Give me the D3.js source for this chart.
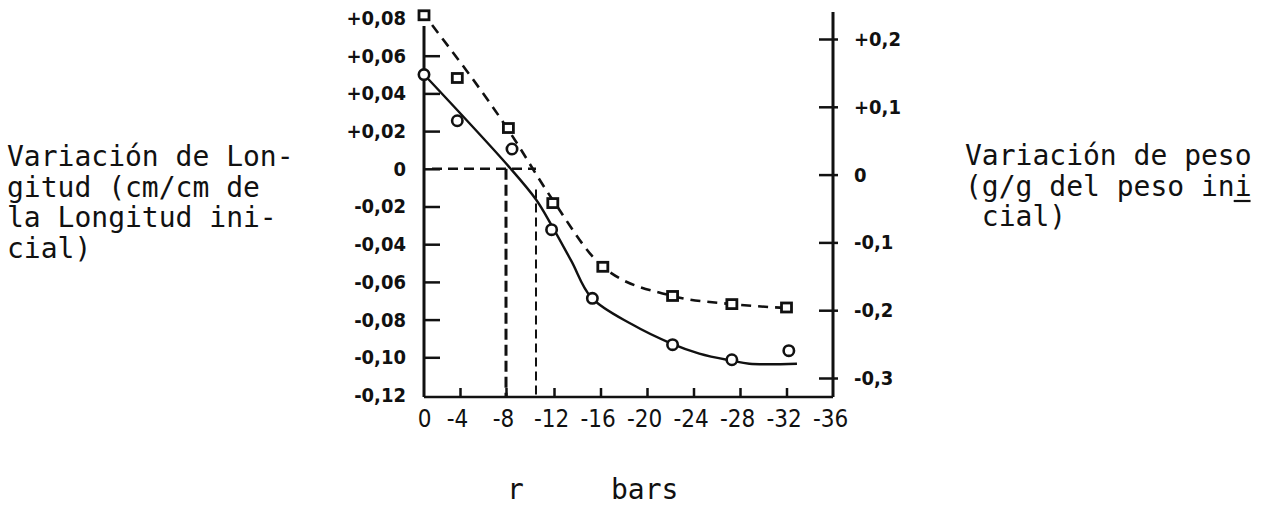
<!DOCTYPE html>
<html>
<head>
<meta charset="utf-8">
<script src="https://cdn.jsdelivr.net/npm/d3@7"></script>
<style>
  html, body { margin: 0; padding: 0; background: #fff; }
  svg { display: block; }
  .mono { font-family: "DejaVu Sans Mono", monospace; font-size: 28px; fill: #111; white-space: pre; }
  .tick text { font-family: "DejaVu Sans Condensed", "DejaVu Sans", sans-serif; fill: #111; }
</style>
</head>
<body>
<svg id="chart" width="1268" height="507"></svg>
<script>
// ---- data ----
const xTicks = [0, -4, -8, -12, -16, -20, -24, -28, -32, -36];
const xTickLabels = ["0", "-4", "-8", "-12", "-16", "-20", "-24", "-28", "-32", "-36"];

const leftTicks = [0.08, 0.06, 0.04, 0.02, 0, -0.02, -0.04, -0.06, -0.08, -0.10, -0.12];
const leftTickLabels = ["+0,08", "+0,06", "+0,04", "+0,02", "0", "-0,02", "-0,04", "-0,06", "-0,08", "-0,10", "-0,12"];

const rightTicks = [0.2, 0.1, 0, -0.1, -0.2, -0.3];
const rightTickLabels = ["+0,2", "+0,1", "0", "-0,1", "-0,2", "-0,3"];

// length variation (circles, left axis)
const circleX = [0, -3.7, -8.5, -11.8, -15.3, -22.2, -27.3, -32.2];
const circleY = [0.050, 0.0255, 0.0105, -0.0323, -0.0687, -0.0933, -0.1013, -0.0965];
// hand-fitted curve through length points
const lengthFitX = [0, -8.2, -10.5, -11.8, -13.5, -15.2, -18.7, -22.1, -24.5, -27.3, -28.8, -32.9];
const lengthFitY = [0.050, 0.0014, -0.0163, -0.0300, -0.0490, -0.0682, -0.0825, -0.0927, -0.098, -0.1018, -0.1034, -0.1034];

// weight variation (squares, right axis)
const squareX = [0, -3.7, -8.2, -11.9, -16.2, -22.2, -27.3, -32];
const squareY = [0.235, 0.1425, 0.0687, -0.042, -0.136, -0.179, -0.191, -0.196];
const weightFitX = [-0.9, -8.2, -11.9, -16.2, -22.2, -27.3, -32.3];
const weightFitY = [0.2206, 0.0658, -0.0375, -0.136, -0.179, -0.191, -0.197];

// reference (dashed) guide lines, in data units
const zeroGuideEndX = -10.5;
const guideVerticalX = [-8, -10.5];
const guideVerticalTop = [0, -0.011];

const leftTitle = ["Variación de Lon-", "gitud (cm/cm de", "la Longitud ini-", "cial)"];
const rightTitle = ["Variación de peso", "(g/g del peso ini", " cial)"];
const xTitleSymbol = "r";
const xTitleUnit = "bars";

// ---- scales ----
const svg = d3.select("#chart");
svg.append("rect").attr("width", 1268).attr("height", 507).attr("fill", "#fff");

const x = d3.scaleLinear().domain([0, -4, -8, -12, -36]).range([424, 460, 506, 554, 833]);
const yL = d3.scaleLinear().domain([-0.12, 0.08]).range([395, 18]);
const yR = d3.scaleLinear().domain([-0.3, 0.2]).range([378, 39]);
const axisBottomY = 397;

const ink = "#111";

// ---- axes ----
// left axis
const gL = svg.append("g").attr("transform", "translate(424,0)");
gL.call(d3.axisLeft(yL).tickValues(leftTicks)
  .tickFormat((d, i) => leftTickLabels[i])
  .tickSizeInner(-16).tickSizeOuter(0).tickPadding(18));
gL.select(".domain").remove();
gL.selectAll(".tick line").attr("stroke", ink).attr("stroke-width", 2.5)
  .attr("display", d => (d === 0.08 || d === -0.12) ? "none" : null);
gL.selectAll(".tick text").attr("font-size", 20).attr("font-weight", "bold");
gL.append("line").attr("x1", 0).attr("x2", 0).attr("y1", 26).attr("y2", axisBottomY)
  .attr("stroke", ink).attr("stroke-width", 3);

// right axis
const gR = svg.append("g").attr("transform", "translate(833,0)");
gR.call(d3.axisRight(yR).tickValues(rightTicks)
  .tickFormat((d, i) => rightTickLabels[i])
  .tickSizeInner(5).tickSizeOuter(0).tickPadding(16));
gR.select(".domain").remove();
gR.selectAll(".tick line").attr("x1", -14).attr("stroke", ink).attr("stroke-width", 2.5);
gR.selectAll(".tick text").attr("font-size", 20).attr("font-weight", "bold");
gR.append("line").attr("x1", 0).attr("x2", 0).attr("y1", 12).attr("y2", axisBottomY)
  .attr("stroke", ink).attr("stroke-width", 3);

// bottom axis
const gB = svg.append("g").attr("transform", `translate(0,${axisBottomY})`);
gB.call(d3.axisBottom(x).tickValues(xTicks)
  .tickFormat((d, i) => xTickLabels[i])
  .tickSizeInner(-9).tickSizeOuter(0).tickPadding(13));
gB.select(".domain").remove();
gB.selectAll(".tick line").attr("stroke", ink).attr("stroke-width", 2.5)
  .attr("display", d => (d === 0 || d === -36) ? "none" : null);
gB.selectAll(".tick text").attr("font-size", 24).attr("dx", d => d === 0 ? 0 : -3);
gB.append("line").attr("x1", x(0)).attr("x2", x(-36)).attr("y1", 0).attr("y2", 0)
  .attr("stroke", ink).attr("stroke-width", 2.5);

// ---- guide lines ----
svg.append("line")
  .attr("x1", x(0) + 8).attr("x2", x(zeroGuideEndX))
  .attr("y1", yL(0)).attr("y2", yL(0))
  .attr("stroke", ink).attr("stroke-width", 2.5).attr("stroke-dasharray", "10,6");
guideVerticalX.forEach((gx, i) => {
  svg.append("line")
    .attr("x1", x(gx)).attr("x2", x(gx))
    .attr("y1", yL(guideVerticalTop[i])).attr("y2", axisBottomY)
    .attr("stroke", ink).attr("stroke-width", i === 0 ? 3 : 2)
    .attr("stroke-dasharray", i === 0 ? "11,5" : "9,5");
});

// ---- curves ----
const lengthLine = d3.line().x(d => x(d[0])).y(d => yL(d[1])).curve(d3.curveCatmullRom.alpha(0.5));
svg.append("path")
  .datum(lengthFitX.map((v, i) => [v, lengthFitY[i]]))
  .attr("d", lengthLine).attr("fill", "none").attr("stroke", ink).attr("stroke-width", 2.4);

const weightLine = d3.line().x(d => x(d[0])).y(d => yR(d[1])).curve(d3.curveMonotoneX);
svg.append("path")
  .datum(weightFitX.map((v, i) => [v, weightFitY[i]]))
  .attr("d", weightLine).attr("fill", "none").attr("stroke", ink).attr("stroke-width", 2.6)
  .attr("stroke-dasharray", "10,7");

// ---- markers ----
svg.selectAll("circle.len")
  .data(circleX.map((v, i) => [v, circleY[i]]))
  .join("circle").attr("class", "len")
  .attr("cx", d => x(d[0])).attr("cy", d => yL(d[1])).attr("r", 5.2)
  .attr("fill", "#fff").attr("stroke", ink).attr("stroke-width", 2.6);

svg.selectAll("rect.wt")
  .data(squareX.map((v, i) => [v, squareY[i]]))
  .join("rect").attr("class", "wt")
  .attr("x", d => x(d[0]) - 5).attr("y", d => yR(d[1]) - 4.5)
  .attr("width", 10).attr("height", 9)
  .attr("fill", "#fff").attr("stroke", ink).attr("stroke-width", 2.8);

// ---- titles ----
const tl = svg.append("text").attr("class", "mono");
leftTitle.forEach((t, i) => {
  tl.append("tspan").attr("x", 7).attr("y", 166 + i * 30.5).text(t);
});
const tr = svg.append("text").attr("class", "mono");
rightTitle.forEach((t, i) => {
  tr.append("tspan").attr("x", 965).attr("y", 165 + i * 30.5).text(t);
});
// typewriter underline under the last "i" of "ini"
const charW = 28 * 0.602;
svg.append("line")
  .attr("x1", 965 + (rightTitle[1].length - 1) * charW - 1)
  .attr("x2", 965 + rightTitle[1].length * charW - 1)
  .attr("y1", 201).attr("y2", 201)
  .attr("stroke", ink).attr("stroke-width", 2.2);

svg.append("text").attr("class", "mono").attr("x", 507).attr("y", 499).text(xTitleSymbol);
svg.append("text").attr("class", "mono").attr("x", 611).attr("y", 499).text(xTitleUnit);
</script>
</body>
</html>
